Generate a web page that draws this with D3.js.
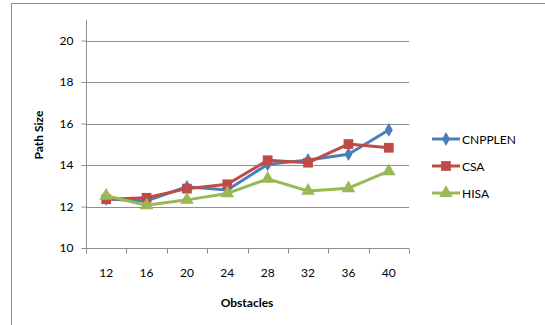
<!DOCTYPE html>
<html><head><meta charset="utf-8">
<script src="https://cdn.jsdelivr.net/npm/d3@7"></script>
<style>
html,body{margin:0;padding:0;background:#fff;}
svg{display:block;font-family:Lato,"Open Sans",sans-serif;}
</style></head>
<body><svg id="c" width="545" height="325"></svg>
<script>
const categories = ["12","16","20","24","28","32","36","40"];
const cnpplen = [12.36, 12.27, 12.95, 12.8, 14.03, 14.24, 14.52, 15.69];
const csa     = [12.35, 12.42, 12.86, 13.07, 14.23, 14.11, 15.01, 14.83];
const hisa    = [12.52, 12.06, 12.32, 12.63, 13.33, 12.75, 12.88, 13.7];
const yTicks  = [10, 12, 14, 16, 18, 20];
const seriesNames = ["CNPPLEN", "CSA", "HISA"];

const series = [
  {name: seriesNames[0], values: cnpplen, color: "#4A7EBB", shape: d3.symbolDiamond, size: 55},
  {name: seriesNames[1], values: csa,     color: "#BE4B48", shape: d3.symbolSquare,  size: 95},
  {name: seriesNames[2], values: hisa,    color: "#98B954", shape: d3.symbolTriangle, size: 80}
];

const svg = d3.select("#c");
const plotLeft = 86, plotRight = 409, plotTop = 20, plotBottom = 248;
const fontSize = 12;

// outer frame
svg.append("rect").attr("x", 11.5).attr("y", 3.5).attr("width", 560).attr("height", 340)
  .attr("fill", "none").attr("stroke", "#8c8c8c").attr("stroke-width", 1);

const x = d3.scaleBand().domain(categories).range([plotLeft, plotRight]);
const y = d3.scaleLinear().domain([10, 21]).range([plotBottom, plotBottom - 41.5 * 5.5]);

// horizontal gridlines
svg.append("g").selectAll("line").data(yTicks.filter(t => t > 10)).join("line")
  .attr("x1", plotLeft).attr("x2", plotRight)
  .attr("y1", d => Math.round(y(d)) + 0.5).attr("y2", d => Math.round(y(d)) + 0.5)
  .attr("stroke", "#8e8e8e").attr("stroke-width", 1);

// y axis
const yAxis = svg.append("g").attr("transform", `translate(${plotLeft + 0.5},0)`)
  .call(d3.axisLeft(y).tickValues(yTicks).tickSize(5).tickPadding(8).tickFormat(d3.format("d")));
yAxis.select(".domain").attr("d", `M-0,${plotTop}V${plotBottom}`).attr("stroke", "#8e8e8e");
yAxis.selectAll(".tick line").attr("stroke", "#8e8e8e");
yAxis.selectAll(".tick text").attr("font-size", fontSize).attr("fill", "#000").attr("font-family", "Lato,sans-serif");

// x axis with ticks at category boundaries
const xAxisG = svg.append("g").attr("transform", `translate(0,${plotBottom + 0.5})`);
xAxisG.append("line").attr("x1", plotLeft).attr("x2", plotRight).attr("stroke", "#8e8e8e");
const bounds = categories.map(c => x(c)).concat([plotRight]);
xAxisG.selectAll("line.tk").data(bounds).join("line").attr("class", "tk")
  .attr("x1", d => Math.round(d) + 0.5).attr("x2", d => Math.round(d) + 0.5)
  .attr("y1", 0).attr("y2", 5).attr("stroke", "#8e8e8e");
xAxisG.selectAll("text").data(categories).join("text")
  .attr("x", d => x(d) + x.bandwidth() / 2).attr("y", 28)
  .attr("text-anchor", "middle").attr("font-size", fontSize).text(d => d);

// axis titles
svg.append("text").attr("transform", "translate(43,135) rotate(-90)")
  .attr("text-anchor", "middle").attr("font-size", fontSize).attr("font-weight", "bold").text("Path Size");
svg.append("text").attr("x", 247).attr("y", 307)
  .attr("text-anchor", "middle").attr("font-size", fontSize).attr("font-weight", "bold").text("Obstacles");

const cx = (i) => x(categories[i]) + x.bandwidth() / 2;
const line = d3.line().x((d, i) => cx(i)).y(d => y(d));

series.forEach(s => {
  const g = svg.append("g");
  g.append("path").datum(s.values).attr("d", line)
    .attr("fill", "none").attr("stroke", s.color).attr("stroke-width", 3).attr("stroke-linejoin", "round");
  g.selectAll("path.m").data(s.values).join("path").attr("class", "m")
    .attr("d", d3.symbol().type(s.shape).size(s.size))
    .attr("transform", (d, i) => `translate(${cx(i)},${y(d)})`)
    .attr("fill", s.color);
});

// legend
const leg = svg.append("g");
series.forEach((s, i) => {
  const ly = 139 + i * 27;
  leg.append("line").attr("x1", 432).attr("x2", 460).attr("y1", ly).attr("y2", ly)
    .attr("stroke", s.color).attr("stroke-width", 3);
  leg.append("path").attr("d", d3.symbol().type(s.shape).size(s.size))
    .attr("transform", `translate(446,${ly})`).attr("fill", s.color);
  leg.append("text").attr("x", 462).attr("y", ly + 4.5).attr("font-size", fontSize).text(s.name);
});
</script></body></html>
